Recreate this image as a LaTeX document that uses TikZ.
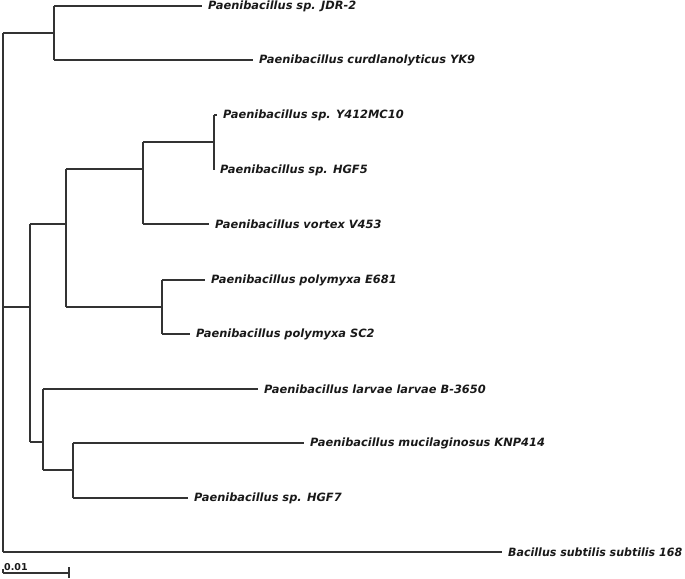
\documentclass[tikz,border=0pt]{standalone}
\usepackage{fontspec}
\usepackage{graphicx}
\setmainfont{DejaVu Sans}
\begin{document}
\begin{tikzpicture}[x=1pt,y=-1pt,
  br/.style={draw=black!80,line width=1.2pt},
  taxon/.style={anchor=west,inner sep=0pt,xshift=6pt,font=\fontsize{11.4}{13}\selectfont\bfseries\itshape,text=black!90}]
\useasboundingbox (0,0) rectangle (685,578);
% internal nodes (top and bottom of each vertical)
\coordinate (Rt) at (3,33);   \coordinate (Rb) at (3,552);
\coordinate (At) at (54,6);   \coordinate (Ab) at (54,60);  \coordinate (Am) at (54,33);
\coordinate (Bt) at (30,224); \coordinate (Bb) at (30,442); \coordinate (Bm) at (30,307);
\coordinate (Rm) at (3,307);
\coordinate (Ct) at (66,169); \coordinate (Cb) at (66,307); \coordinate (Cm) at (66,224);
\coordinate (Ft) at (143,142);\coordinate (Fb) at (143,224);\coordinate (Fm) at (143,169);
\coordinate (Ht) at (214,115);\coordinate (Hb) at (214,170);\coordinate (Hm) at (214,142);
\coordinate (Gt) at (162,280);\coordinate (Gb) at (162,334);\coordinate (Gm) at (162,307);
\coordinate (Et) at (43,389); \coordinate (Eb) at (43,470); \coordinate (Em) at (43,442);
\coordinate (It) at (73,443); \coordinate (Ib) at (73,498); \coordinate (Im) at (73,470);
% tips
\coordinate (t1) at (202,6);
\coordinate (t2) at (253,60);
\coordinate (t3) at (217,115);
\coordinate (t4) at (214,170);
\coordinate (t5) at (209,224);
\coordinate (t6) at (205,280);
\coordinate (t7) at (190,334);
\coordinate (t8) at (258,389);
\coordinate (t9) at (304,443);
\coordinate (t10) at (188,498);
\coordinate (t11) at (502,552);
% verticals
\foreach \n in {R,A,B,C,F,H,G,E,I} \draw[br] (\n t) -- (\n b);
% horizontals between internal nodes
\draw[br] (Rt) -- (Am);
\draw[br] (Rm) -- (Bm);
\draw[br] (Bt) -- (Cm);
\draw[br] (Ct) -- (Fm);
\draw[br] (Ft) -- (Hm);
\draw[br] (Cb) -- (Gm);
\draw[br] (Bb) -- (Em);
\draw[br] (Eb) -- (Im);
% terminal branches
\draw[br] (At) -- (t1);
\draw[br] (Ab) -- (t2);
\draw[br] (Ht) -- (t3);
\draw[br] (Fb) -- (t5);
\draw[br] (Gt) -- (t6);
\draw[br] (Gb) -- (t7);
\draw[br] (Et) -- (t8);
\draw[br] (It) -- (t9);
\draw[br] (Ib) -- (t10);
\draw[br] (Rb) -- (t11);
% labels
\node[taxon] (l1) at (t1) {Paenibacillus sp. JDR-2};
\node[taxon] (l2) at (t2) {Paenibacillus curdlanolyticus YK9};
\node[taxon] (l3) at (t3) {Paenibacillus sp. Y412MC10};
\node[taxon] (l4) at (t4) {Paenibacillus sp. HGF5};
\node[taxon] (l5) at (t5) {Paenibacillus vortex V453};
\node[taxon] (l6) at (t6) {Paenibacillus polymyxa E681};
\node[taxon] (l7) at (t7) {Paenibacillus polymyxa SC2};
\node[taxon] (l8) at (t8) {Paenibacillus larvae larvae B-3650};
\node[taxon] (l9) at (t9) {Paenibacillus mucilaginosus KNP414};
\node[taxon] (l10) at (t10) {Paenibacillus sp. HGF7};
\node[taxon] (l11) at (t11) {\resizebox{174pt}{\height}{Bacillus subtilis subtilis 168}};
% scale bar
\coordinate (s0) at (3,573);
\coordinate (s1) at (69,573);
\draw[br] (s0) -- (s1);
\draw[br] (3,569) -- (s0);
\draw[br] (69,567) -- (69,578);
\node[anchor=south west,inner sep=0pt,font=\fontsize{9.5}{11}\selectfont\bfseries,text=black!90] (sl) at (4,570.5) {0.01};
\end{tikzpicture}
\end{document}
